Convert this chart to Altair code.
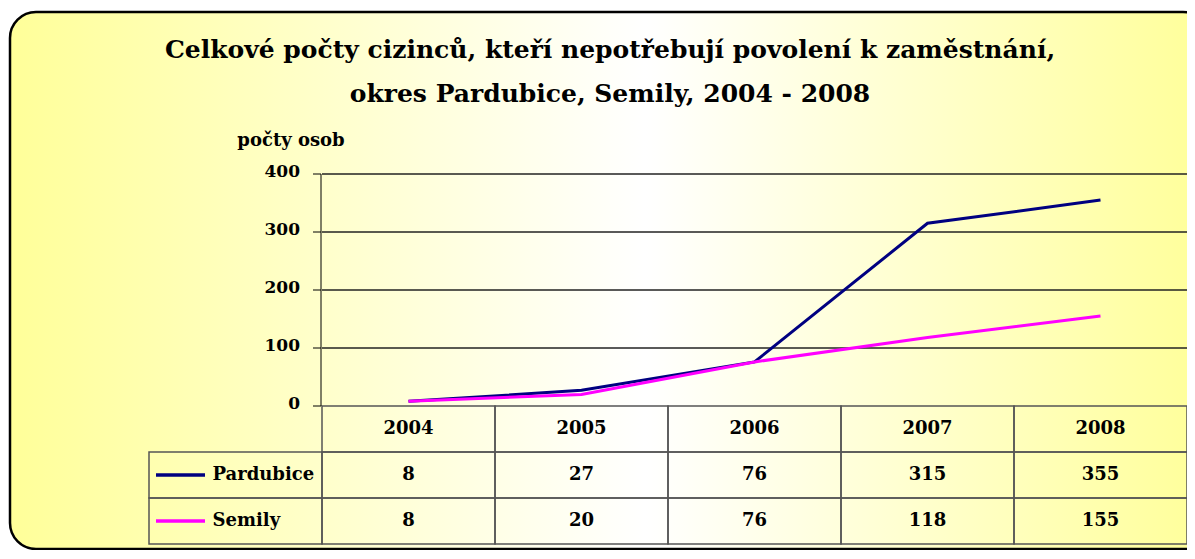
import altair as alt
import pandas as pd

# ---------------- data ----------------
years = ["2004", "2005", "2006", "2007", "2008"]
pardubice = [8, 27, 76, 315, 355]
semily = [8, 20, 76, 118, 155]
series_names = ["Pardubice", "Semily"]
series_colors = ["#000080", "#FF00FF"]
y_ticks = [0, 100, 200, 300, 400]
grid_values = [100, 200, 300, 400]
title_lines = [
    "Celkové počty cizinců, kteří nepotřebují povolení k zaměstnání,",
    "okres Pardubice, Semily, 2004 - 2008",
]
y_title = "počty osob"

FONT = "DejaVu Serif"
W, H = 1038, 370
LINE_H = 232
AX = 172  # x of the value axis inside the plot (start of 2004 column)

columns = ["label"] + years
rows = ["hdr"] + series_names

long_df = pd.DataFrame({
    "year": years * 2,
    "series": [series_names[0]] * len(years) + [series_names[1]] * len(years),
    "value": pardubice + semily,
})

grid_df = pd.DataFrame([{"year": y, "v": v} for v in grid_values for y in years])
tick_df = pd.DataFrame({"v": y_ticks, "t": [str(v) for v in y_ticks]})
domain_df = pd.DataFrame({"lo": [min(y_ticks)], "hi": [max(y_ticks)]})

cells = []
for r in rows:
    for c in columns:
        if r == "hdr" and c == "label":
            continue
        cells.append({"row": r, "col": c})
cells_df = pd.DataFrame(cells)

txt = []
for y in years:
    txt.append({"row": "hdr", "col": y, "t": y})
for name, vals in zip(series_names, [pardubice, semily]):
    for y, v in zip(years, vals):
        txt.append({"row": name, "col": y, "t": str(v)})
txt_df = pd.DataFrame(txt)

lab_df = pd.DataFrame({"row": series_names, "series": series_names, "col": ["label"] * 2})

# ---------------- scales ----------------
x_scale = alt.Scale(type="band", domain=columns, paddingInner=0, paddingOuter=0)
y_line = alt.Scale(domain=[0, 400], range=[LINE_H, 0], nice=False)
y_rows = alt.Scale(type="band", domain=rows, range=[LINE_H, H], paddingInner=0, paddingOuter=0)
col_scale = alt.Scale(domain=series_names, range=series_colors)

one = pd.DataFrame({"a": [0]})

gradient = alt.LinearGradient(
    gradient="linear",
    stops=[
        alt.GradientStop(color="#FFFF99", offset=0),
        alt.GradientStop(color="#FFFFFF", offset=0.53),
        alt.GradientStop(color="#FFFF99", offset=1),
    ],
    x1=0, x2=1, y1=0, y2=0,
)

bg = alt.Chart(one).mark_rect(
    cornerRadius=26, stroke="black", strokeWidth=2.5, fill=gradient
).encode(
    x=alt.value(-139), x2=alt.value(1060), y=alt.value(-162), y2=alt.value(375)
)

grid = alt.Chart(grid_df).mark_rect(filled=False, color="#222222", strokeWidth=1).encode(
    x=alt.X("year:N", scale=x_scale, axis=None),
    y=alt.Y("v:Q", scale=y_line, axis=None),
    y2="v:Q",
)

# value axis drawn by hand (ticks, labels, domain line, title)
ax_ticks = alt.Chart(tick_df).mark_rule(color="black", strokeWidth=1).encode(
    x=alt.value(AX - 8), x2=alt.value(AX),
    y=alt.Y("v:Q", scale=y_line, axis=None),
)
ax_labels = alt.Chart(tick_df).mark_text(
    font=FONT, fontSize=17, fontWeight="bold", color="black",
    align="right", baseline="middle", dy=-2,
).encode(
    x=alt.value(AX - 21),
    y=alt.Y("v:Q", scale=y_line, axis=None),
    text="t:N",
)
ax_domain = alt.Chart(domain_df).mark_rule(color="black", strokeWidth=1).encode(
    x=alt.value(AX),
    y=alt.Y("hi:Q", scale=y_line, axis=None),
    y2="lo:Q",
)
ax_title = alt.Chart(one).mark_text(
    font=FONT, fontSize=18, fontWeight="bold", color="black", align="center", baseline="middle"
).encode(x=alt.value(AX - 30), y=alt.value(-33), text=alt.value(y_title))

table_cells = alt.Chart(cells_df).mark_rect(filled=False, color="#555555", strokeWidth=1.5).encode(
    x=alt.X("col:N", scale=x_scale, axis=None),
    y=alt.Y("row:N", scale=y_rows, axis=None),
)

lines = alt.Chart(long_df).mark_line(strokeWidth=3).encode(
    x=alt.X("year:N", scale=x_scale, axis=None, bandPosition=0.5),
    y=alt.Y("value:Q", scale=y_line, axis=None),
    color=alt.Color("series:N", scale=col_scale, legend=None),
)

table_text = alt.Chart(txt_df).mark_text(
    font=FONT, fontSize=18, fontWeight="bold", color="black", baseline="middle", align="center"
).encode(
    x=alt.X("col:N", scale=x_scale, axis=None, bandPosition=0.5),
    y=alt.Y("row:N", scale=y_rows, axis=None, bandPosition=0.5),
    text="t:N",
)

row_labels = alt.Chart(lab_df).mark_text(
    font=FONT, fontSize=18, fontWeight="bold", color="black", baseline="middle", align="left", dx=-23
).encode(
    x=alt.X("col:N", scale=x_scale, axis=None, bandPosition=0.5),
    y=alt.Y("row:N", scale=y_rows, axis=None, bandPosition=0.5),
    text="series:N",
)

swatches = alt.Chart(lab_df).mark_rule(strokeWidth=3.5).encode(
    x=alt.value(7), x2=alt.value(56),
    y=alt.Y("row:N", scale=y_rows, axis=None, bandPosition=0.5),
    color=alt.Color("series:N", scale=col_scale, legend=None),
)

title1 = alt.Chart(one).mark_text(
    font=FONT, fontSize=25, fontWeight="bold", color="black", align="center", baseline="middle"
).encode(x=alt.value(461), y=alt.value(-124), text=alt.value(title_lines[0]))

title2 = alt.Chart(one).mark_text(
    font=FONT, fontSize=25, fontWeight="bold", color="black", align="center", baseline="middle"
).encode(x=alt.value(461), y=alt.value(-80), text=alt.value(title_lines[1]))

chart = alt.layer(
    bg, grid, table_cells, ax_domain, ax_ticks, lines, ax_labels, ax_title,
    table_text, row_labels, swatches, title1, title2
).resolve_scale(
    y="independent"
).properties(
    width=W, height=H,
    autosize=alt.AutoSizeParams(type="none"),
    padding={"left": 141, "top": 166, "right": 0, "bottom": 6},
    background="white",
).configure_view(stroke="transparent")

chart.save("out.html", embed_options={"renderer": "svg", "actions": False})
